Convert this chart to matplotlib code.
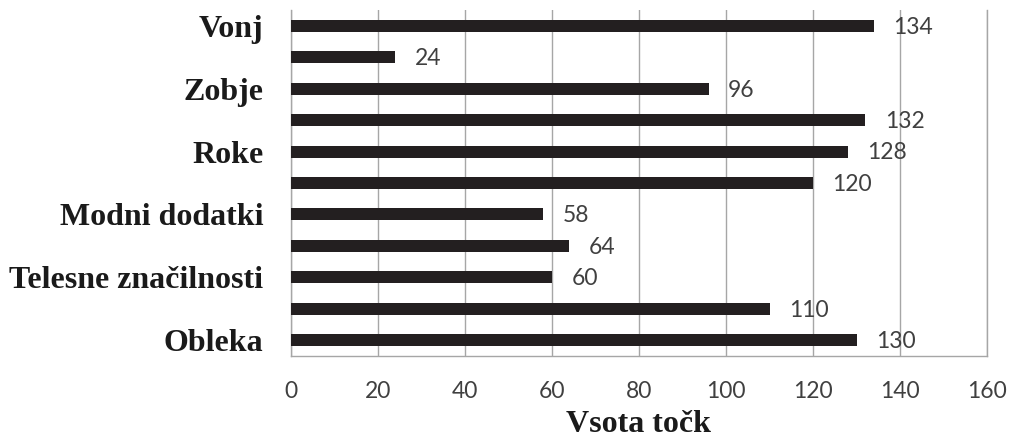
import matplotlib
matplotlib.use("Agg")
import matplotlib.pyplot as plt
import numpy as np

# Categories listed top to bottom; only every other one carries a label
categories = ["Vonj", "", "Zobje", "", "Roke", "", "Modni dodatki", "",
              "Telesne značilnosti", "", "Obleka"]
values = [134, 24, 96, 132, 128, 120, 58, 64, 60, 110, 130]
x_ticks = [0, 20, 40, 60, 80, 100, 120, 140, 160]
x_label = "Vsota točk"

fig = plt.figure(figsize=(10.14, 4.43), dpi=100)
ax = fig.add_axes([291 / 1014, 1 - 356 / 443, (987 - 291) / 1014, (356 - 10) / 443])

pos = np.arange(len(values))
ax.barh(pos, values, height=0.38, color="#231f20", zorder=3)
ax.set_ylim(len(values) - 0.5, -0.5)
ax.set_xlim(0, 160)

ax.set_yticks(pos)
ax.set_yticklabels(categories, fontfamily="Liberation Serif", fontweight="bold",
                   fontsize=23, color="#1a1a1a")
ax.tick_params(axis="y", length=0, pad=20)

ax.set_xticks(x_ticks)
ax.set_xticklabels([str(t) for t in x_ticks], fontfamily="Lato", fontsize=16.5,
                   color="#404040")
ax.tick_params(axis="x", length=0, pad=18)

ax.grid(axis="x", color="#a6a6a6", linewidth=1.0, zorder=0)
ax.spines["top"].set_visible(False)
for side in ("left", "bottom", "right"):
    ax.spines[side].set_color("#a6a6a6")
    ax.spines[side].set_linewidth(1.0)

for p, v in zip(pos, values):
    ax.annotate(str(v), xy=(v, p), xytext=(14, -1), textcoords="offset points",
                va="center", ha="left", fontfamily="Lato", fontsize=16.5,
                color="#404040", zorder=4)

ax.set_xlabel(x_label, fontfamily="Liberation Serif", fontweight="bold",
              fontsize=23, color="#1a1a1a", labelpad=6)

fig.savefig("out.png", dpi=100)
